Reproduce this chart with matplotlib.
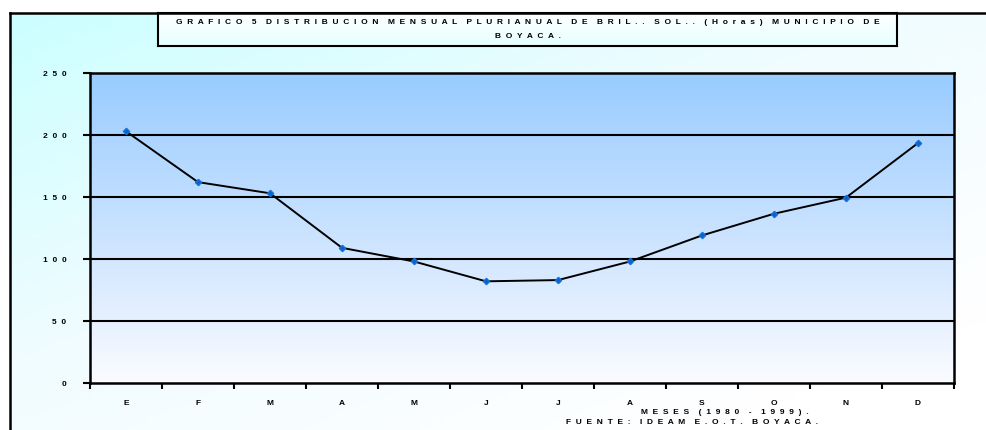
import numpy as np
import matplotlib
matplotlib.use("Agg")
import matplotlib.pyplot as plt
from matplotlib.colors import LinearSegmentedColormap

plt.rcParams['font.family'] = ['Liberation Sans', 'DejaVu Sans']
plt.rcParams['font.weight'] = 'bold'

# data (horas de brillo solar, promedio mensual 1980-1999)
months = ['E', 'F', 'M', 'A', 'M', 'J', 'J', 'A', 'S', 'O', 'N', 'D']
sun_hours = [203, 162, 153, 109, 98, 82, 83, 98, 119, 136.5, 149.5, 193.5]
yticks = [0, 50, 100, 150, 200, 250]

title_l1 = "GRAFICO 5 DISTRIBUCION MENSUAL PLURIANUAL DE BRIL.. SOL.. (Horas) MUNICIPIO DE"
title_l2 = "BOYACA."
xlabel_l1 = "MESES (1980 - 1999)."
xlabel_l2 = "FUENTE: IDEAM E.O.T. BOYACA."

FS = 6


def spaced(s, gap="  "):
    # imitate the wide letter spacing of the original spreadsheet chart
    words = s.split(" ")
    return (gap + "  ").join(gap.join(w) for w in words)


W, H = 987, 430
fig = plt.figure(figsize=(W / 100, H / 100), dpi=100)
fig.patch.set_facecolor('white')

# outer chart area with diagonal cyan->white gradient
bg = fig.add_axes([10 / W, 0, 1 - 10 / W, 1 - 13 / H], zorder=0)
gx, gy = np.meshgrid(np.linspace(0, 1, 200), np.linspace(0, 1, 100))
grad = np.clip(0.55 * gx + 0.6 * gy, 0, 1)
bg_cmap = LinearSegmentedColormap.from_list('bg', ['#CCFFFF', '#F0FCFF', '#FFFFFF'])
bg.imshow(grad, cmap=bg_cmap, aspect='auto', extent=[0, 1, 0, 1], origin='upper')
bg.set_xlim(0, 1)
bg.set_ylim(0, 1)
bg.axis('off')
fig.add_artist(plt.Line2D([10 / W, 10 / W], [0, 1 - 13 / H], color='black', lw=1.8,
                          transform=fig.transFigure, zorder=5))
fig.add_artist(plt.Line2D([10 / W, 1], [1 - 13 / H, 1 - 13 / H], color='black', lw=1.8,
                          transform=fig.transFigure, zorder=5))

# title box
tb = fig.add_axes([158 / W, 1 - 46 / H, (897 - 158) / W, 33 / H], zorder=2)
tgrad = np.linspace(0, 1, 50).reshape(-1, 1)
tb.imshow(tgrad, cmap=LinearSegmentedColormap.from_list('tb', ['#FFFFFF', '#E6FFFF']),
          aspect='auto', extent=[0, 1, 0, 1])
tb.set_xlim(0, 1)
tb.set_ylim(0, 1)
tb.set_xticks([])
tb.set_yticks([])
for sp in tb.spines.values():
    sp.set_linewidth(1.5)
tb.text(0.5, 0.72, spaced(title_l1), ha='center', va='center', fontsize=FS,
        fontweight='bold')
tb.text(0.5, 0.28, spaced(title_l2), ha='center', va='center', fontsize=FS,
        fontweight='bold')

# main plot
ax = fig.add_axes([90 / W, 1 - 383 / H, (954 - 90) / W, (383 - 73) / H], zorder=3)
x = np.arange(len(months))
ax.set_xlim(-0.5, len(months) - 0.5)
ax.set_ylim(0, 250)
pgrad = np.linspace(0, 1, 100).reshape(-1, 1)
ax.imshow(pgrad, cmap=LinearSegmentedColormap.from_list('pa', ['#99CCFF', '#C9E2FF', '#FAFBFF']),
          aspect='auto', extent=[-0.5, len(months) - 0.5, 0, 250], zorder=0)

for v in yticks[1:-1]:
    ax.axhline(v, color='black', lw=1.5, zorder=1)

ax.plot(x, sun_hours, color='black', lw=1.4, zorder=2)
ax.plot(x, sun_hours, linestyle='none', marker='D', markersize=3.2,
        color='#0066CC', markeredgecolor='#1A6FD6', zorder=3)

ax.set_yticks(yticks)
ax.set_yticklabels([spaced(str(v)) for v in yticks], fontsize=FS, fontweight='bold')
ax.set_xticks(np.arange(len(months) + 1) - 0.5)
ax.set_xticklabels([])
ax.set_xticks(x, minor=True)
ax.set_xticklabels(months, minor=True, fontsize=FS, fontweight='bold')
ax.tick_params(axis='x', which='major', direction='out', length=4, width=1.5)
ax.tick_params(axis='x', which='minor', length=0, pad=12)
ax.tick_params(axis='y', direction='out', length=5, width=1.5, pad=12)
for sp in ax.spines.values():
    sp.set_linewidth(1.8)

fig.text(725 / W, 1 - 412 / H, spaced(xlabel_l1), ha='center', va='center',
         fontsize=FS, fontweight='bold', zorder=4)
fig.text(692 / W, 1 - 423 / H, spaced(xlabel_l2), ha='center', va='center',
         fontsize=FS, fontweight='bold', zorder=4)

fig.savefig('out.png', dpi=100)
